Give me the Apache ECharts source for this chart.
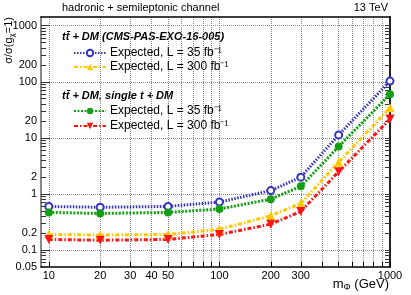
<!DOCTYPE html>
<html><head><meta charset="utf-8">
<script src="https://cdn.jsdelivr.net/npm/echarts@6/dist/echarts.min.js"></script>
<style>html,body{margin:0;padding:0;background:#fff}#c{width:411px;height:295px}</style>
</head><body><div id="c"></div>
<script>
// ---- data ----
const masses = [10, 20, 50, 100, 200, 300, 500, 1000];
const ttdm35  = [0.60, 0.58, 0.60, 0.72, 1.15, 2.0, 11.3, 103];
const ttdm300 = [0.19, 0.185, 0.19, 0.235, 0.41, 0.68, 3.7, 34.5];
const comb35  = [0.47, 0.45, 0.47, 0.54, 0.81, 1.37, 7.0, 60];
const comb300 = [0.155, 0.15, 0.155, 0.19, 0.29, 0.49, 2.5, 21.7];
const xTickLabels = [10, 20, 30, 40, 50, 100, 200, 300, 1000];
const xTicks = [10, 20, 30, 40, 50, 60, 70, 80, 90, 100, 200, 300, 400, 500, 600, 700, 800, 900, 1000];
const yTickLabels = [0.05, 0.1, 0.2, 1, 2, 10, 20, 100, 200, 1000];
const yTicks = [0.05, 0.06, 0.07, 0.08, 0.09, 0.1, 0.2, 0.3, 0.4, 0.5, 0.6, 0.7, 0.8, 0.9,
  1, 2, 3, 4, 5, 6, 7, 8, 9, 10, 20, 30, 40, 50, 60, 70, 80, 90, 100, 200, 300, 400, 500, 600, 700, 800, 900, 1000];
const yDecades = [0.1, 1, 10, 100, 1000];
const legendNames = {
  ttdm35: 'Expected, L = 35 fb\u207B\u00B9',
  ttdm300: 'Expected, L = 300 fb\u207B\u00B9',
  comb35: 'Expected, L = 35 fb\u207B\u00B9',
  comb300: 'Expected, L = 300 fb\u207B\u00B9'
};

const FONT = "'Liberation Sans', Arial, Helvetica, sans-serif";
const zip = (xs, ys) => xs.map((x, i) => [x, ys[i]]);
const fmt = v => String(+(+v).toPrecision(6));
const X_MIN = 9, X_MAX = 1000, Y_MIN = 0.05, Y_MAX = 1430;

const chart = echarts.init(document.getElementById('c'), null, {renderer: 'canvas'});
const legendText = {fontSize: 12, lineHeight: 14, fontFamily: FONT, color: '#000', padding: [0, 0, 0, -1]};
chart.setOption({
  animation: false,
  backgroundColor: '#fff',
  grid: {left: 41, right: 21, top: 17, bottom: 28},
  xAxis: [{
    type: 'log', min: X_MIN, max: X_MAX, position: 'bottom',
    axisLine: {show: true, lineStyle: {color: '#000', width: 1.5}},
    axisTick: {show: true, inside: true, length: 5, customValues: xTicks, lineStyle: {color: '#000'}},
    axisLabel: {customValues: xTickLabels, formatter: fmt, fontSize: 11, fontFamily: FONT, color: '#000', margin: 3},
    splitLine: {show: true, lineStyle: {type: 'dotted', color: '#8a8a8a', width: 1}}
  }, {
    type: 'log', min: X_MIN, max: X_MAX, position: 'top',
    axisLine: {show: true, lineStyle: {color: '#000', width: 1.5}},
    axisTick: {show: false}, axisLabel: {show: false}, splitLine: {show: false}
  }],
  yAxis: [{
    type: 'log', min: Y_MIN, max: Y_MAX, position: 'left',
    axisLine: {show: true, lineStyle: {color: '#888', width: 2}},
    axisTick: {show: true, inside: true, length: 5, customValues: yTicks, lineStyle: {color: '#333'}},
    axisLabel: {customValues: yTickLabels, formatter: fmt, fontSize: 11, fontFamily: FONT, color: '#000', margin: 4},
    splitLine: {show: false}
  }, {
    type: 'log', min: Y_MIN, max: Y_MAX, position: 'left',
    axisLine: {show: false},
    axisTick: {show: true, inside: true, length: 9, customValues: yDecades, lineStyle: {color: '#333'}},
    axisLabel: {show: false},
    splitLine: {show: true, lineStyle: {type: 'dotted', color: '#8a8a8a', width: 1}}
  }, {
    type: 'log', min: Y_MIN, max: Y_MAX, position: 'right',
    axisLine: {show: true, lineStyle: {color: '#222', width: 2}},
    axisTick: {show: true, inside: true, length: 5, customValues: yTicks, lineStyle: {color: '#333'}},
    axisLabel: {show: false}, splitLine: {show: false}
  }],
  legend: [{
    data: ['ttdm35', 'ttdm300'], orient: 'vertical', left: 68, top: 41,
    itemWidth: 32, itemHeight: 8, itemGap: 0,
    formatter: n => legendNames[n], textStyle: legendText
  }, {
    data: ['comb35', 'comb300'], orient: 'vertical', left: 68, top: 99,
    itemWidth: 32, itemHeight: 8, itemGap: 1,
    formatter: n => legendNames[n], textStyle: legendText
  }],
  series: [{
    name: 'ttdm35', type: 'line', data: zip(masses, ttdm35),
    color: '#3434c4', symbol: 'emptyCircle', symbolSize: 7,
    itemStyle: {borderWidth: 1.5},
    lineStyle: {width: 3, type: [1.5, 1.5]}
  }, {
    name: 'ttdm300', type: 'line', data: zip(masses, ttdm300),
    color: '#ffc800', symbol: 'triangle', symbolSize: 9,
    lineStyle: {width: 3, type: [4, 2, 1.5, 2]}
  }, {
    name: 'comb35', type: 'line', data: zip(masses, comb35),
    color: '#12a012', symbol: 'circle', symbolSize: 8,
    lineStyle: {width: 3, type: [2, 1.5]}
  }, {
    name: 'comb300', type: 'line', data: zip(masses, comb300),
    color: '#ff1414', symbol: 'triangle', symbolRotate: 180, symbolSize: 9,
    lineStyle: {width: 3, type: [4, 2, 1.5, 2]}
  }],
  graphic: [{
    type: 'text', left: 62, top: 2,
    style: {text: 'hadronic + semileptonic channel', font: '11px ' + FONT, fill: '#000'}
  }, {
    type: 'text', right: 23, top: 2,
    style: {text: '13 TeV', font: '11px ' + FONT, fill: '#000'}
  }, {
    type: 'text', left: 62, top: 31,
    style: {text: 'tt\u0304 + DM (CMS-PAS-EXO-16-005)', font: 'italic bold 11px ' + FONT, fill: '#000'}
  }, {
    type: 'text', left: 62, top: 90,
    style: {text: 'tt\u0304 + DM, single t + DM', font: 'italic bold 11px ' + FONT, fill: '#000'}
  }, {
    type: 'text', x: 9, y: 17, rotation: Math.PI / 2,
    style: {
      text: '\u03C3/\u03C3(g{sub|\u03C7}=1)', font: '11px ' + FONT, fill: '#000',
      align: 'right', verticalAlign: 'middle',
      rich: {sub: {fontSize: 8, fontFamily: FONT, padding: [6, 0, 0, 0]}}
    }
  }, {
    type: 'text', right: 22, top: 278,
    style: {
      text: 'm{sub|\u03A6} (GeV)', font: '13px ' + FONT, fill: '#000',
      rich: {sub: {fontSize: 9, fontFamily: FONT, padding: [7, 0, 0, 0]}}
    }
  }]
});
</script></body></html>
